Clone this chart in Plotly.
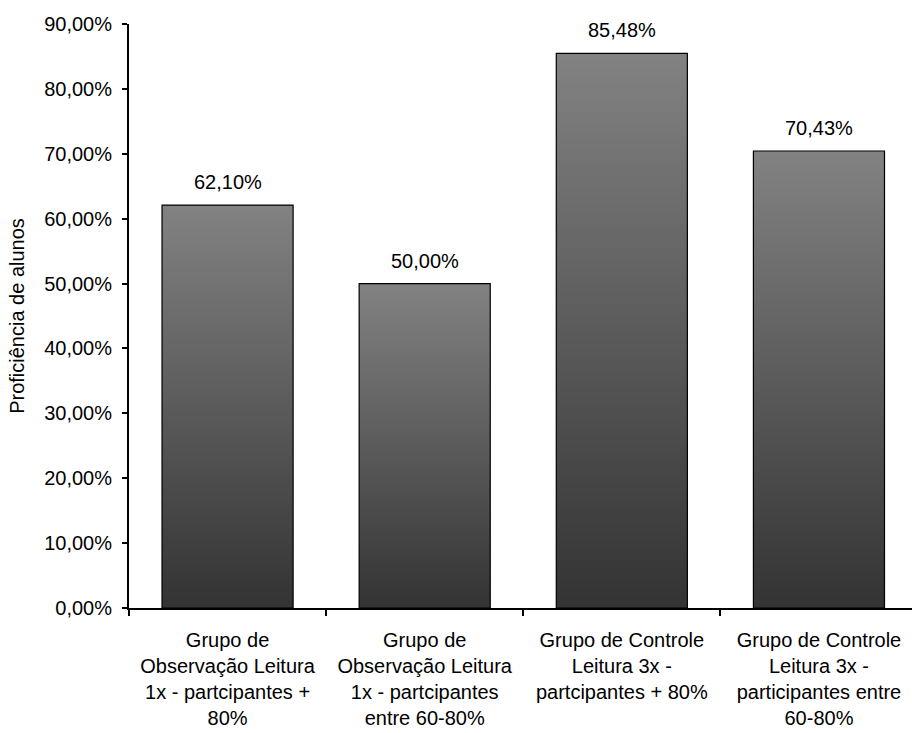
import plotly.graph_objects as go

# Proficiency share per group
categories = [
    "Grupo de<br>Observação Leitura<br>1x - partcipantes +<br>80%",
    "Grupo de<br>Observação Leitura<br>1x - partcipantes<br>entre 60-80%",
    "Grupo de Controle<br>Leitura 3x -<br>partcipantes + 80%",
    "Grupo de Controle<br>Leitura 3x -<br>participantes entre<br>60-80%",
]
values = [0.6210, 0.5000, 0.8548, 0.7043]
value_labels = ["62,10%", "50,00%", "85,48%", "70,43%"]
y_ticks = [0.0, 0.1, 0.2, 0.3, 0.4, 0.5, 0.6, 0.7, 0.8, 0.9]

FONT = "Liberation Sans, Arial, sans-serif"
FS = 20
BAR_W = 0.665

fig = go.Figure()

# Each bar is a filled polygon so it can carry a vertical grey gradient
for i, v in enumerate(values):
    x0, x1 = i - BAR_W / 2, i + BAR_W / 2
    fig.add_trace(go.Scatter(
        x=[x0, x0, x1, x1, x0],
        y=[0, v, v, 0, 0],
        mode="lines",
        fill="toself",
        fillgradient=dict(
            type="vertical",
            colorscale=[[0, "#333333"], [0.5, "#5b5b5b"], [1, "#828282"]],
        ),
        line=dict(color="#000000", width=1.2),
        hoverinfo="skip",
        showlegend=False,
    ))

# Value labels above the bars
for i, (v, lab) in enumerate(zip(values, value_labels)):
    fig.add_annotation(
        x=i, y=v, text=lab, showarrow=False,
        xanchor="center", yanchor="bottom", yshift=10,
        font=dict(family=FONT, size=FS, color="#000000"),
    )

x_range = [-0.5, 3.472]

fig.update_layout(
    width=912,
    height=733,
    margin=dict(l=129, r=0, t=24, b=125),
    paper_bgcolor="#ffffff",
    plot_bgcolor="#ffffff",
    separators=",.",
    font=dict(family=FONT, size=FS, color="#000000"),
    xaxis=dict(
        range=x_range,
        tickvals=[-0.5, 0.5, 1.5, 2.5],
        ticktext=["", "", "", ""],
        ticks="outside",
        ticklen=6,
        tickwidth=2,
        tickcolor="#000000",
        showline=True,
        linecolor="#000000",
        linewidth=2,
        showgrid=False,
        zeroline=False,
        fixedrange=True,
    ),
    xaxis2=dict(
        overlaying="x",
        side="bottom",
        range=x_range,
        tickvals=list(range(len(categories))),
        ticktext=categories,
        ticks="",
        showline=False,
        showgrid=False,
        zeroline=False,
        tickfont=dict(family=FONT, size=FS, color="#000000"),
        ticklabelstandoff=18,
    ),
    yaxis=dict(
        range=[0, 0.9],
        tickvals=y_ticks,
        tickformat=".2%",
        ticks="outside",
        ticklen=5,
        tickwidth=2,
        tickcolor="#000000",
        showline=True,
        linecolor="#000000",
        linewidth=2,
        showgrid=False,
        zeroline=False,
        tickfont=dict(family=FONT, size=FS, color="#000000"),
        ticklabelstandoff=6,
        title=dict(text="Proficiência de alunos",
                   font=dict(family=FONT, size=FS, color="#000000"),
                   standoff=14),
    ),
)

# Invisible anchor trace so the category axis is drawn
fig.add_trace(go.Scatter(
    x=list(range(len(categories))), y=[None] * len(categories),
    xaxis="x2", mode="markers", showlegend=False, hoverinfo="skip",
))

fig.write_html("out.html")
